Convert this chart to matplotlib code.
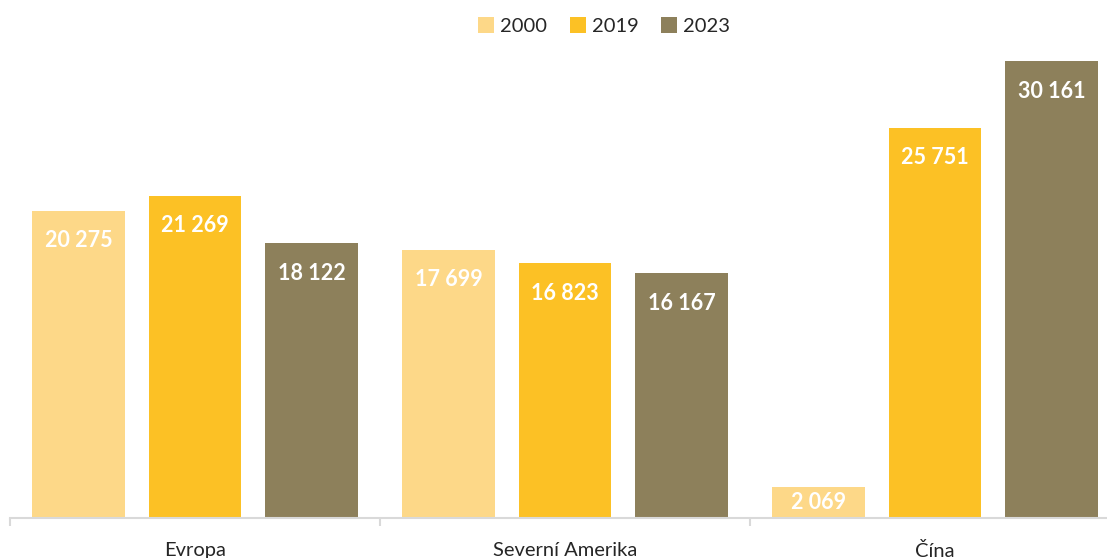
import matplotlib
matplotlib.use("Agg")
import matplotlib.pyplot as plt
import numpy as np

categories = ["Evropa", "Severní Amerika", "Čína"]
years = ["2000", "2019", "2023"]
values_2000 = [20275, 17699, 2069]
values_2019 = [21269, 16823, 25751]
values_2023 = [18122, 16167, 30161]
series = [values_2000, values_2019, values_2023]
colors = ["#FDD888", "#FCC125", "#8D805B"]

plt.rcParams['font.family'] = ['Lato', 'DejaVu Sans']

fig = plt.figure(figsize=(11.07, 5.58), dpi=100)
ax = fig.add_axes([10/1107, 1 - 518/558, 1110/1107, 484.8/558])

x = np.arange(len(categories))
width = 0.249
offset = 0.315
px_per_unit = 484.8 / 32000
for i, (vals, col, yr) in enumerate(zip(series, colors, years)):
    pos = x + (i - 1) * offset
    ax.bar(pos, vals, width=width, color=col, label=yr, zorder=2)
    for p, v in zip(pos, vals):
        ly = max(v - 30 / px_per_unit, v / 2)
        ax.text(p, ly, f"{v:,}".replace(",", " "), ha="center", va="center",
                color="white", fontsize=15.5, fontweight="bold", zorder=3)

ax.set_xlim(-0.5, 2.5)
ax.set_ylim(0, 32000)
ax.set_yticks([])
for s in ["top", "right", "left"]:
    ax.spines[s].set_visible(False)
ax.spines["bottom"].set_color("#D9D9D9")
ax.spines["bottom"].set_linewidth(1.5)
ax.set_xticks(x)
ax.set_xticklabels(categories, fontsize=14.5, color="#262626")
ax.tick_params(axis="x", which="major", length=0, pad=17)
ax.set_xticks([-0.5, 0.5, 1.5, 2.5], minor=True)
ax.tick_params(axis="x", which="minor", length=6, color="#D9D9D9", width=1.5)

leg = fig.legend(loc="center", bbox_to_anchor=(604/1107, 1 - 26/558), ncol=3,
                 frameon=False, fontsize=14.5, handlelength=0.8, handleheight=0.8,
                 handletextpad=0.3, columnspacing=1.1)
for t in leg.get_texts():
    t.set_color("#262626")

fig.savefig("out.png", dpi=100)
